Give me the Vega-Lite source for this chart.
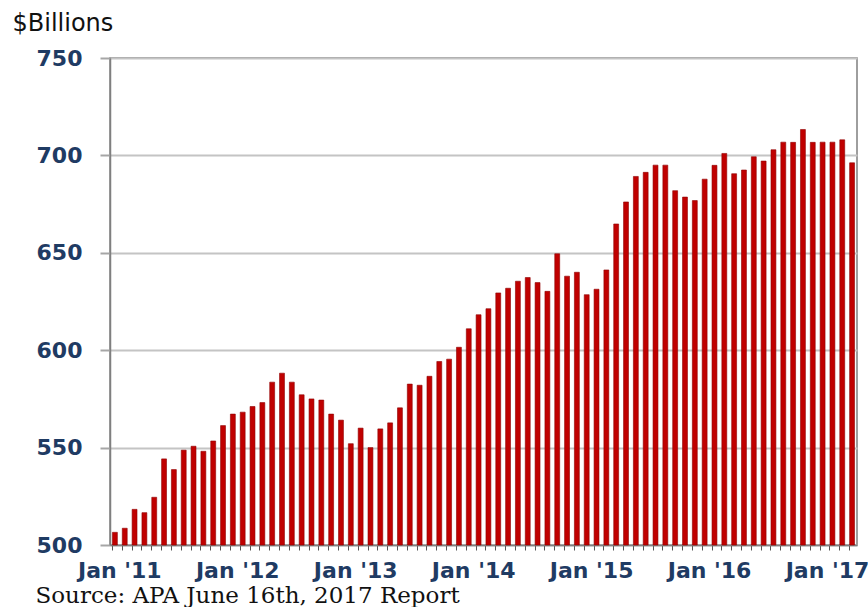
{
  "$schema": "https://vega.github.io/schema/vega-lite/v6.json",
  "autosize": {"type": "none"},
  "padding": {"left": 110, "top": 58, "right": 11, "bottom": 62},
  "width": 747,
  "height": 487,
  "background": "white",
  "config": {"view": {"stroke": "#7f7f7f", "strokeWidth": 1.5}},
  "data": {"values": [
    {"m": "2011-01", "v": 506.5}, {"m": "2011-02", "v": 508.6}, {"m": "2011-03", "v": 518.3}, {"m": "2011-04", "v": 516.6},
    {"m": "2011-05", "v": 524.5}, {"m": "2011-06", "v": 544.2}, {"m": "2011-07", "v": 538.7}, {"m": "2011-08", "v": 548.7},
    {"m": "2011-09", "v": 550.7}, {"m": "2011-10", "v": 548.1}, {"m": "2011-11", "v": 553.4}, {"m": "2011-12", "v": 561.3},
    {"m": "2012-01", "v": 567.2}, {"m": "2012-02", "v": 568.2}, {"m": "2012-03", "v": 571.1}, {"m": "2012-04", "v": 573.1},
    {"m": "2012-05", "v": 583.6}, {"m": "2012-06", "v": 588.2}, {"m": "2012-07", "v": 583.6}, {"m": "2012-08", "v": 577.1},
    {"m": "2012-09", "v": 575.0}, {"m": "2012-10", "v": 574.4}, {"m": "2012-11", "v": 567.2}, {"m": "2012-12", "v": 564.1},
    {"m": "2013-01", "v": 552.0}, {"m": "2013-02", "v": 560.0}, {"m": "2013-03", "v": 550.0}, {"m": "2013-04", "v": 559.6},
    {"m": "2013-05", "v": 562.7}, {"m": "2013-06", "v": 570.4}, {"m": "2013-07", "v": 582.6}, {"m": "2013-08", "v": 582.0},
    {"m": "2013-09", "v": 586.6}, {"m": "2013-10", "v": 594.2}, {"m": "2013-11", "v": 595.4}, {"m": "2013-12", "v": 601.5},
    {"m": "2014-01", "v": 611.0}, {"m": "2014-02", "v": 618.2}, {"m": "2014-03", "v": 621.3}, {"m": "2014-04", "v": 629.4},
    {"m": "2014-05", "v": 631.8}, {"m": "2014-06", "v": 635.4}, {"m": "2014-07", "v": 637.3}, {"m": "2014-08", "v": 634.7},
    {"m": "2014-09", "v": 630.2}, {"m": "2014-10", "v": 649.5}, {"m": "2014-11", "v": 638.0}, {"m": "2014-12", "v": 640.0},
    {"m": "2015-01", "v": 628.5}, {"m": "2015-02", "v": 631.3}, {"m": "2015-03", "v": 641.2}, {"m": "2015-04", "v": 664.8},
    {"m": "2015-05", "v": 676.1}, {"m": "2015-06", "v": 689.2}, {"m": "2015-07", "v": 691.3}, {"m": "2015-08", "v": 695.0},
    {"m": "2015-09", "v": 695.0}, {"m": "2015-10", "v": 681.9}, {"m": "2015-11", "v": 678.6}, {"m": "2015-12", "v": 676.8},
    {"m": "2016-01", "v": 687.8}, {"m": "2016-02", "v": 694.9}, {"m": "2016-03", "v": 701.0}, {"m": "2016-04", "v": 690.6},
    {"m": "2016-05", "v": 692.5}, {"m": "2016-06", "v": 699.3}, {"m": "2016-07", "v": 697.1}, {"m": "2016-08", "v": 702.9},
    {"m": "2016-09", "v": 706.8}, {"m": "2016-10", "v": 706.7}, {"m": "2016-11", "v": 713.3}, {"m": "2016-12", "v": 706.7},
    {"m": "2017-01", "v": 706.8}, {"m": "2017-02", "v": 706.8}, {"m": "2017-03", "v": 708.0}, {"m": "2017-04", "v": 696.2}
  ]},
  "mark": {"type": "bar", "color": "#c00000", "stroke": "#8e0000", "strokeWidth": 0.6},
  "encoding": {
    "x": {
      "field": "m", "type": "ordinal", "sort": null,
      "scale": {"paddingInner": 0.5, "paddingOuter": 0.25},
      "axis": {
        "title": "Source: APA June 16th, 2017 Report",
        "titleFont": "DejaVu Serif", "titleFontSize": 23, "titleFontWeight": "normal", "titleColor": "#111111",
        "titleX": -75, "titleY": 57, "titleAlign": "left", "titleBaseline": "alphabetic",
        "labelExpr": "slice(datum.value, 5) == '01' ? \"Jan '\" + slice(datum.value, 2, 4) : ''",
        "labelAngle": 0, "labelOverlap": false, "labelFont": "DejaVu Sans", "labelFontWeight": "bold",
        "labelFontSize": 22, "labelColor": "#1f3b63", "labelPadding": 10, "labelBaseline": "top",
        "bandPosition": 0, "labelOffset": 4.9,
        "tickSize": 5, "tickColor": "#555555", "tickWidth": 1,
        "domainColor": "#7f7f7f", "domainWidth": 1.5, "grid": false
      }
    },
    "y": {
      "field": "v", "type": "quantitative", "stack": null,
      "scale": {"domain": [500, 750], "zero": false, "nice": false},
      "axis": {
        "title": "$Billions", "titleFont": "DejaVu Sans", "titleFontSize": 24, "titleFontWeight": "normal", "titleColor": "#111111",
        "titleAngle": 0, "titleX": -98, "titleY": -28, "titleAlign": "left", "titleBaseline": "alphabetic",
        "values": [500, 550, 600, 650, 700, 750],
        "labelFont": "DejaVu Sans", "labelFontWeight": "bold", "labelFontSize": 22, "labelColor": "#1f3b63", "labelPadding": 18,
        "tickSize": 10, "tickColor": "#a6a6a6", "tickWidth": 2,
        "domainColor": "#7f7f7f", "domainWidth": 1.5,
        "grid": true, "gridColor": "#c4c4c4", "gridWidth": 2
      }
    }
  }
}
